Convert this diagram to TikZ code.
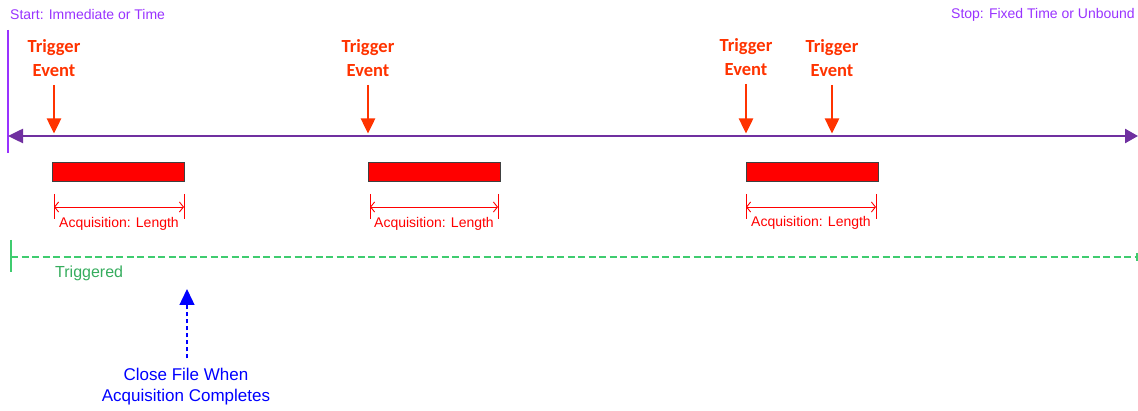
\documentclass[tikz,border=0pt]{standalone}
\usepackage{fontspec}
\setmainfont{Liberation Sans}
\newfontfamily\evfont{Carlito}
\usepackage{tikz}
\usetikzlibrary{
  calc,
  positioning,
  arrows.meta
}
\definecolor{StartViolet}{HTML}{9933FF}
\definecolor{AxisPurple}{HTML}{7030A0}
\definecolor{TrigOrange}{HTML}{FF3300}
\definecolor{BarRed}{HTML}{FF0000}
\definecolor{BarEdge}{HTML}{404040}
\definecolor{TrigGreen}{HTML}{3FCC6F}
\definecolor{CloseBlue}{HTML}{0000FF}

\begin{document}
\begin{tikzpicture}[
      x=1pt, y=-1pt,
      lbl/.style={font=\fontsize{14}{16}\selectfont, inner sep=0pt},
      trig/.style={font=\evfont\bfseries\fontsize{18.5}{24}\selectfont, text=TrigOrange, align=center, inner sep=0pt},
      tarr/.style={-{Triangle[length=15pt,width=14pt]}, TrigOrange, line width=2.5pt, shorten >=2.5pt},
      axis/.style={{Triangle[length=15pt,width=14pt]}-{Triangle[length=13pt,width=14pt]}, AxisPurple, line width=2.5pt},
      acqbar/.style={draw=BarEdge, fill=BarRed, line width=1pt, minimum width=132pt, minimum height=19pt, inner sep=0pt},
      dim/.style={{Straight Barb[length=4pt,width=10pt]}-{Straight Barb[length=4pt,width=10pt]}, BarRed, line width=0.9pt},
      dimtick/.style={BarRed, line width=0.9pt},
      trg/.style={TrigGreen, line width=1.6pt},
      closearr/.style={-{Triangle[length=16pt,width=15pt]}, CloseBlue, line width=1.4pt, dash pattern=on 4pt off 3pt}
    ]
    \useasboundingbox (0,0) rectangle (1138,411);
    % time axis
    \node[lbl, anchor=west, text=StartViolet] (start) at (10,15) {Start: Immediate or Time};
    \node[lbl, anchor=east, text=StartViolet] (stop) at (1135,15) {Stop: Fixed Time or Unbound};
    \coordinate (axL) at (8,136);
    \coordinate (axR) at (1138,136);
    \draw[StartViolet, line width=1.5pt] (8,30) -- (8,153);
    \draw[axis] (axL) -- (axR);
    % trigger events
    \node[trig] (trig1) at (54,58) {Trigger\\Event};
    \node[trig] (trig2) at (368,58) {Trigger\\Event};
    \node[trig] (trig3) at (746,57) {Trigger\\Event};
    \node[trig] (trig4) at (832,58) {Trigger\\Event};
    \draw[tarr] ([yshift=-8pt]trig1.south) -- (trig1.south |- axL);
    \draw[tarr] ([yshift=-8pt]trig2.south) -- (trig2.south |- axL);
    \draw[tarr] ([yshift=-8pt]trig3.south) -- (trig3.south |- axL);
    \draw[tarr] ([yshift=-8pt]trig4.south) -- (trig4.south |- axL);
    % acquisitions
    \node[acqbar] (bar1) at (118,172) {};
    \node[acqbar] (bar2) at (434,172) {};
    \node[acqbar] (bar3) at (812,172) {};
    \coordinate (a1l) at (54,207);  \coordinate (a1r) at (184,207);
    \coordinate (a2l) at (370,207); \coordinate (a2r) at (498,207);
    \coordinate (a3l) at (746,207); \coordinate (a3r) at (876,207);
    \foreach \c in {a1l,a1r,a2l,a2r,a3l,a3r}
      \draw[dimtick] ([yshift=13pt]\c) -- ([yshift=-12pt]\c);
    \draw[dim] (a1l) -- (a1r);
    \draw[dim] (a2l) -- (a2r);
    \draw[dim] (a3l) -- (a3r);
    \node[lbl, text=BarRed] (len1) at (119,224) {Acquisition: Length};
    \node[lbl, text=BarRed] (len2) at (434,224) {Acquisition: Length};
    \node[lbl, text=BarRed] (len3) at (811,223) {Acquisition: Length};
    % triggered state
    \coordinate (gL) at (11,257);
    \coordinate (gR) at (1137,257);
    \draw[trg] ([yshift=17pt]gL) -- ([yshift=-15pt]gL);
    \draw[trg] ([yshift=4pt]gR) -- ([yshift=-4pt]gR);
    \draw[trg, dash pattern=on 7pt off 3.5pt] (gL) -- (gR);
    \node[lbl, anchor=west, text=TrigGreen!85!black, font=\fontsize{16}{18}\selectfont] (trgd) at (55,273) {Triggered};
    % close file
    \node[text=CloseBlue, align=center, inner sep=0pt, font=\fontsize{17}{21}\selectfont] (close) at (186,387) {Close File When\\Acquisition Completes};
    \coordinate (closetip) at (187,289);
    \draw[closearr] ([yshift=10pt]close.north -| closetip) -- (closetip);
  \end{tikzpicture}
\end{document}
